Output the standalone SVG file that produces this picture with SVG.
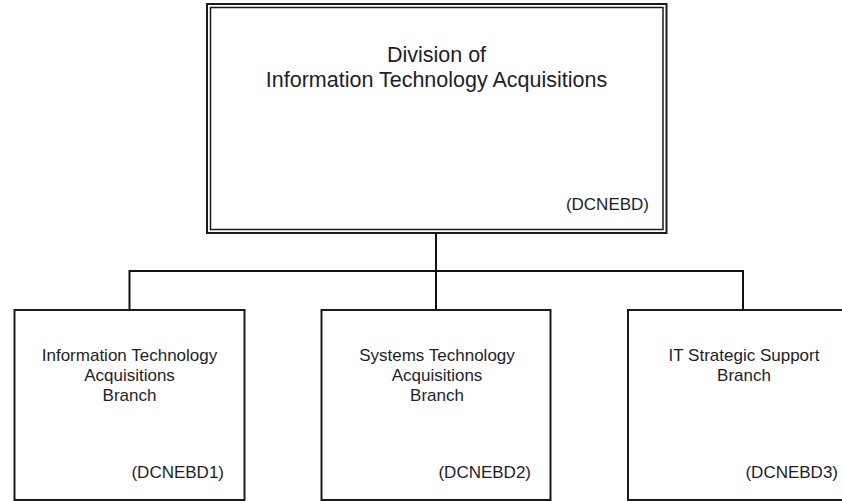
<svg xmlns="http://www.w3.org/2000/svg" width="842" height="501" viewBox="0 0 842 501">
<style>
.box{fill:#fff;stroke:#1a1a1a;stroke-width:2}
.thin{fill:none;stroke:#1a1a1a;stroke-width:1.5}
.conn{fill:none;stroke:#111;stroke-width:2}
text{font-family:"Liberation Sans",Arial,sans-serif;fill:#1e1e2a}
.t1{font-size:21.5px;text-anchor:middle}
.t2{font-size:17px;text-anchor:middle}
.code{font-size:17px;text-anchor:end}
</style>
<rect width="842" height="501" fill="#fff"/>
<g id="connectors">
<path class="conn" d="M436 233V310M129.5 271H743M129.5 270V310M743 270V310"/>
</g>
<g id="division">
<rect class="box" x="207" y="4" width="459.5" height="229"/>
<rect class="thin" x="210.5" y="7.5" width="452.5" height="222"/>
<text class="t1" x="436.5" y="62">Division of</text>
<text class="t1" x="436.5" y="87">Information Technology Acquisitions</text>
<text class="code" x="649" y="210">(DCNEBD)</text>
</g>
<g id="branch1">
<rect class="box" x="14.5" y="310" width="230" height="190"/>
<text class="t2" x="129.5" y="361">Information Technology</text>
<text class="t2" x="129.5" y="381">Acquisitions</text>
<text class="t2" x="129.5" y="401">Branch</text>
<text class="code" x="224" y="478">(DCNEBD1)</text>
</g>
<g id="branch2">
<rect class="box" x="321.5" y="310" width="229" height="190"/>
<text class="t2" x="437" y="361">Systems Technology</text>
<text class="t2" x="437" y="381">Acquisitions</text>
<text class="t2" x="437" y="401">Branch</text>
<text class="code" x="531" y="478">(DCNEBD2)</text>
</g>
<g id="branch3">
<rect class="box" x="628" y="310" width="230" height="190"/>
<text class="t2" x="744" y="361">IT Strategic Support</text>
<text class="t2" x="744" y="381">Branch</text>
<text class="code" x="838" y="478">(DCNEBD3)</text>
</g>
</svg>
